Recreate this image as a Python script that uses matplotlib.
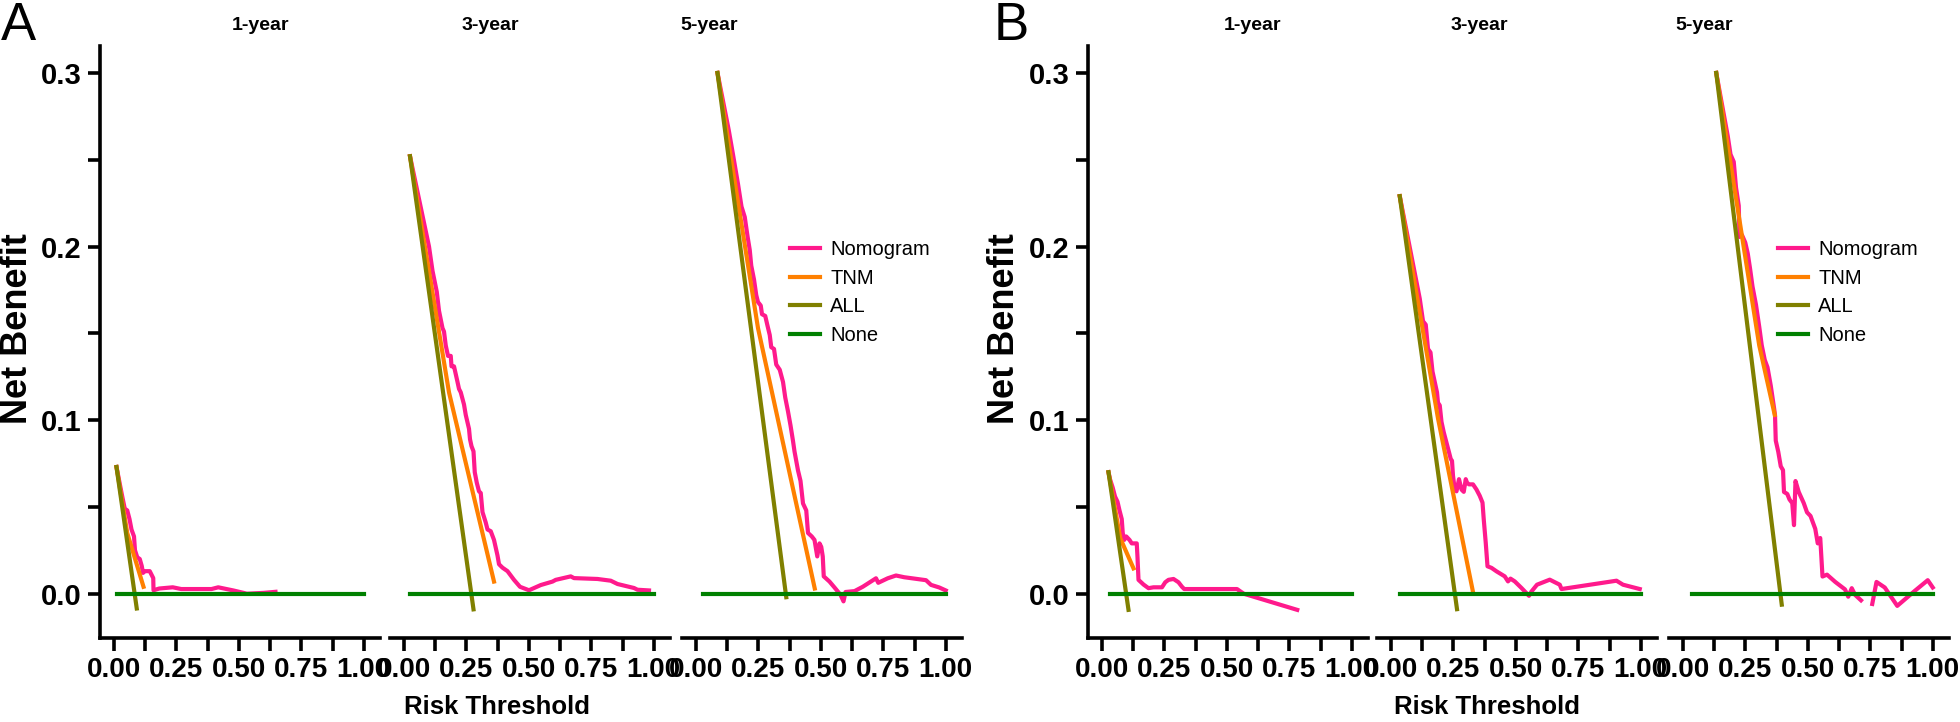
import numpy as np
import matplotlib
matplotlib.use('Agg')
import matplotlib.pyplot as plt
from matplotlib.lines import Line2D

plt.rcParams['font.family'] = ['Liberation Sans', 'DejaVu Sans']

years = ['1-year', '3-year', '5-year']
series_names = ['Nomogram', 'TNM', 'ALL', 'None']
colours = ['#FF1A8C', '#FF8000', '#808000', '#008000']

# ---------------- Panel A ----------------
a1_nom_x = [0.011, 0.034, 0.044, 0.054, 0.063, 0.071, 0.081, 0.085, 0.094, 0.104,
            0.112, 0.117, 0.125, 0.144, 0.158, 0.159, 0.182, 0.236, 0.270, 0.317,
            0.391, 0.418, 0.451, 0.478, 0.519, 0.532, 0.600, 0.647]
a1_nom_y = [0.073, 0.056, 0.049, 0.048, 0.043, 0.037, 0.033, 0.025, 0.021, 0.020,
            0.016, 0.012, 0.013, 0.013, 0.009, 0.002, 0.003, 0.0037, 0.0027, 0.0027,
            0.0027, 0.0037, 0.0027, 0.0019, 0.0005, 0.0, 0.0005, 0.0011]
a1_tnm_x = [0.011, 0.054, 0.119]
a1_tnm_y = [0.073, 0.035, 0.004]
a1_all_x = [0.011, 0.092]
a1_all_y = [0.073, -0.0085]
a1_none_x = [0.013, 1.0]

a3_nom_x = [0.025, 0.101, 0.115, 0.132, 0.141, 0.155, 0.161, 0.168, 0.177, 0.188,
            0.191, 0.201, 0.215, 0.221, 0.228, 0.241, 0.248, 0.261, 0.265, 0.271,
            0.279, 0.284, 0.292, 0.301, 0.308, 0.315, 0.328, 0.335, 0.348, 0.361,
            0.375, 0.381, 0.395, 0.415, 0.441, 0.465, 0.501, 0.548, 0.595, 0.608,
            0.668, 0.681, 0.775, 0.828, 0.855, 0.921, 0.935, 0.981]
a3_nom_y = [0.252, 0.200, 0.186, 0.174, 0.163, 0.153, 0.151, 0.143, 0.137, 0.137,
            0.131, 0.131, 0.122, 0.118, 0.116, 0.109, 0.103, 0.095, 0.089, 0.085,
            0.082, 0.070, 0.064, 0.059, 0.058, 0.047, 0.041, 0.037, 0.036, 0.031,
            0.022, 0.017, 0.015, 0.013, 0.008, 0.004, 0.002, 0.005, 0.007, 0.008,
            0.010, 0.009, 0.0085, 0.0075, 0.0056, 0.0033, 0.0023, 0.0019]
a3_tnm_x = [0.025, 0.181, 0.361]
a3_tnm_y = [0.252, 0.116, 0.007]
a3_all_x = [0.025, 0.279]
a3_all_y = [0.252, -0.009]
a3_none_x = [0.025, 1.0]

a5_nom_x = [0.087, 0.132, 0.149, 0.169, 0.183, 0.196, 0.207, 0.216, 0.222, 0.233,
            0.242, 0.249, 0.260, 0.265, 0.278, 0.286, 0.296, 0.302, 0.313, 0.322,
            0.336, 0.349, 0.358, 0.369, 0.379, 0.389, 0.395, 0.409, 0.419, 0.429,
            0.442, 0.449, 0.464, 0.475, 0.486, 0.495, 0.502, 0.508, 0.512, 0.535,
            0.555, 0.579, 0.591, 0.599, 0.635, 0.668, 0.721, 0.730, 0.768, 0.801,
            0.834, 0.921, 0.941, 0.974, 1.000]
a5_nom_y = [0.300, 0.267, 0.253, 0.236, 0.223, 0.217, 0.206, 0.198, 0.189, 0.181,
            0.172, 0.168, 0.166, 0.161, 0.160, 0.155, 0.149, 0.142, 0.141, 0.132,
            0.129, 0.122, 0.113, 0.105, 0.097, 0.088, 0.082, 0.071, 0.065, 0.052,
            0.048, 0.035, 0.033, 0.031, 0.0215, 0.029, 0.027, 0.0215, 0.010, 0.007,
            0.0036, -0.0006, -0.0044, 0.001, 0.0015, 0.004, 0.0089, 0.0063, 0.0089, 0.0105,
            0.0095, 0.0078, 0.0051, 0.0036, 0.0019]
a5_tnm_x = [0.087, 0.249, 0.476]
a5_tnm_y = [0.300, 0.153, 0.003]
a5_all_x = [0.087, 0.362]
a5_all_y = [0.300, -0.002]
a5_none_x = [0.027, 1.0]

# ---------------- Panel B ----------------
b1_nom_x = [0.027, 0.033, 0.044, 0.053, 0.063, 0.071, 0.080, 0.084, 0.090, 0.098,
            0.111, 0.120, 0.140, 0.143, 0.147, 0.167, 0.187, 0.207, 0.241, 0.254,
            0.267, 0.287, 0.307, 0.321, 0.330, 0.381, 0.448, 0.541, 0.568, 0.782]
b1_nom_y = [0.070, 0.066, 0.061, 0.056, 0.053, 0.048, 0.043, 0.035, 0.031, 0.033,
            0.031, 0.029, 0.029, 0.021, 0.008, 0.0053, 0.0032, 0.0037, 0.0037, 0.0066,
            0.008, 0.0085, 0.0066, 0.004, 0.0027, 0.0027, 0.0027, 0.0027, 0.0, -0.0093]
b1_tnm_x = [0.027, 0.074, 0.127]
b1_tnm_y = [0.070, 0.032, 0.0146]
b1_all_x = [0.027, 0.107]
b1_all_y = [0.070, -0.0093]
b1_none_x = [0.031, 1.0]

b3_nom_x = [0.036, 0.116, 0.129, 0.140, 0.149, 0.159, 0.167, 0.176, 0.185, 0.189,
            0.196, 0.203, 0.212, 0.223, 0.233, 0.240, 0.245, 0.249, 0.256, 0.263,
            0.273, 0.283, 0.292, 0.300, 0.305, 0.313, 0.329, 0.343, 0.356, 0.367,
            0.372, 0.380, 0.387, 0.403, 0.423, 0.456, 0.469, 0.479, 0.496, 0.523,
            0.553, 0.563, 0.585, 0.636, 0.676, 0.683, 0.903, 0.929, 0.996]
b3_nom_y = [0.229, 0.170, 0.157, 0.155, 0.141, 0.139, 0.128, 0.122, 0.116, 0.110,
            0.1085, 0.099, 0.093, 0.087, 0.0815, 0.0776, 0.0766, 0.068, 0.060, 0.059,
            0.066, 0.060, 0.0587, 0.066, 0.064, 0.063, 0.063, 0.060, 0.0564, 0.0525,
            0.0428, 0.0293, 0.0158, 0.0149, 0.0129, 0.010, 0.0071, 0.0087, 0.0071, 0.0033,
            -0.0012, 0.0013, 0.0052, 0.0081, 0.0052, 0.0027, 0.0075, 0.0052, 0.0027]
b3_tnm_x = [0.036, 0.189, 0.329]
b3_tnm_y = [0.229, 0.101, 0.001]
b3_all_x = [0.036, 0.265]
b3_all_y = [0.229, -0.0089]
b3_none_x = [0.036, 1.0]

# nan marks where the curve left the plotting range
b5_nom_x = [0.134, 0.180, 0.191, 0.204, 0.213, 0.224, 0.227, 0.237, 0.250, 0.260,
            0.269, 0.279, 0.293, 0.306, 0.316, 0.328, 0.339, 0.352, 0.365, 0.369,
            0.372, 0.382, 0.392, 0.401, 0.405, 0.418, 0.427, 0.438, 0.445, 0.451,
            0.464, 0.484, 0.497, 0.511, 0.530, 0.540, 0.550, 0.559, 0.577, 0.610,
            0.649, 0.662, 0.676, 0.689, 0.713, 0.735, 0.758, 0.775, 0.808, 0.858,
            0.927, 0.980, 1.000]
b5_nom_y = [0.300, 0.2636, 0.2531, 0.2488, 0.2340, 0.2235, 0.2055, 0.2066, 0.2023, 0.1960,
            0.1875, 0.1770, 0.1664, 0.1537, 0.1431, 0.1347, 0.1304, 0.1199, 0.1072, 0.1030,
            0.0882, 0.0818, 0.0734, 0.0712, 0.0586, 0.0575, 0.0543, 0.0522, 0.0395, 0.0649,
            0.0586, 0.0522, 0.0469, 0.0448, 0.0374, 0.0290, 0.0321, 0.0099, 0.0110, 0.0068,
            0.0025, -0.0017, 0.0032, -0.0006, -0.0038, np.nan, -0.0059, 0.0068, 0.0036, -0.0070,
            0.0015, 0.0078, 0.0036]
b5_tnm_x = [0.134, 0.306, 0.368]
b5_tnm_y = [0.300, 0.143, 0.103]
b5_all_x = [0.134, 0.396]
b5_all_y = [0.300, -0.0063]
b5_none_x = [0.035, 1.0]

panels = [
    ('A', [(a1_nom_x, a1_nom_y, a1_tnm_x, a1_tnm_y, a1_all_x, a1_all_y, a1_none_x),
           (a3_nom_x, a3_nom_y, a3_tnm_x, a3_tnm_y, a3_all_x, a3_all_y, a3_none_x),
           (a5_nom_x, a5_nom_y, a5_tnm_x, a5_tnm_y, a5_all_x, a5_all_y, a5_none_x)]),
    ('B', [(b1_nom_x, b1_nom_y, b1_tnm_x, b1_tnm_y, b1_all_x, b1_all_y, b1_none_x),
           (b3_nom_x, b3_nom_y, b3_tnm_x, b3_tnm_y, b3_all_x, b3_all_y, b3_none_x),
           (b5_nom_x, b5_nom_y, b5_tnm_x, b5_tnm_y, b5_all_x, b5_all_y, b5_none_x)]),
]

# layout in figure pixels
W, H = 1960, 722
panel_lefts = [[100, 390, 682], [1088, 1377, 1669]]
facet_w = 280
ax_top, ax_bot = 46, 638
letter_x = [1, 994]
ylabel_x = [18, 1004]
xlabel_x = [497, 1487]
title_x = [[260, 490, 709], [1252, 1479, 1704]]
legend_x = [790, 1778]

LW = 3.0
AXW = 2.6

fig = plt.figure(figsize=(W / 100, H / 100), dpi=100)

for p, (letter, facets) in enumerate(panels):
    for f, (nx, ny, tx, ty, ax_x, ax_y, none_x) in enumerate(facets):
        left = panel_lefts[p][f]
        ax = fig.add_axes([left / W, (H - ax_bot) / H, facet_w / W, (ax_bot - ax_top) / H])
        ax.plot(nx, ny, color=colours[0], lw=LW, solid_joinstyle='round')
        ax.plot(tx, ty, color=colours[1], lw=LW)
        ax.plot(ax_x, ax_y, color=colours[2], lw=LW)
        ax.plot(none_x, [0, 0], color=colours[3], lw=LW)

        ax.set_xlim(-0.055, 1.065)
        ax.set_ylim(-0.0255, 0.3155)
        for s in ['top', 'right']:
            ax.spines[s].set_visible(False)
        ax.spines['bottom'].set_linewidth(AXW)
        ax.set_xticks([0, 0.25, 0.5, 0.75, 1.0])
        ax.set_xticklabels(['0.00', '0.25', '0.50', '0.75', '1.00'])
        ax.set_xticks([0.125, 0.375, 0.625, 0.875], minor=True)
        ax.tick_params(axis='x', which='both', length=9, width=AXW, direction='out')
        ax.tick_params(axis='x', which='major', labelsize=20, pad=5)
        for lab in ax.get_xticklabels():
            lab.set_fontweight('bold')

        if f == 0:
            ax.spines['left'].set_linewidth(AXW)
            ax.set_yticks([0.0, 0.1, 0.2, 0.3])
            ax.set_yticklabels(['0.0', '0.1', '0.2', '0.3'])
            ax.set_yticks([0.05, 0.15, 0.25], minor=True)
            ax.tick_params(axis='y', which='both', length=9, width=AXW, direction='out')
            ax.tick_params(axis='y', which='major', labelsize=21, pad=4)
            for lab in ax.get_yticklabels():
                lab.set_fontweight('bold')
        else:
            ax.spines['left'].set_visible(False)
            ax.set_yticks([])

        ax.patch.set_alpha(0)
        fig.text(title_x[p][f] / W, 1 - 26 / H, years[f],
                 ha='center', va='center', fontsize=14, fontweight='bold')

        if f == 2:
            handles = [Line2D([], [], color=c, lw=LW) for c in colours]
            ax.legend(handles, series_names, loc='upper left',
                      bbox_to_anchor=(legend_x[p] / W, 1 - 240 / H),
                      bbox_transform=fig.transFigure, frameon=False, fontsize=14.5,
                      handlelength=1.5, handletextpad=0.5, labelspacing=0.48,
                      borderpad=0, borderaxespad=0)

    fig.text(letter_x[p] / W, 1 - 1 / H, letter, fontsize=38, ha='left', va='top')
    fig.text(ylabel_x[p] / W, 1 - 329 / H, 'Net Benefit', rotation=90,
             ha='center', va='center', fontsize=26, fontweight='bold')
    fig.text(xlabel_x[p] / W, 1 - 707 / H, 'Risk Threshold',
             ha='center', va='center', fontsize=18.5, fontweight='bold')

fig.savefig('out.png', dpi=100)
print('saved out.png')
